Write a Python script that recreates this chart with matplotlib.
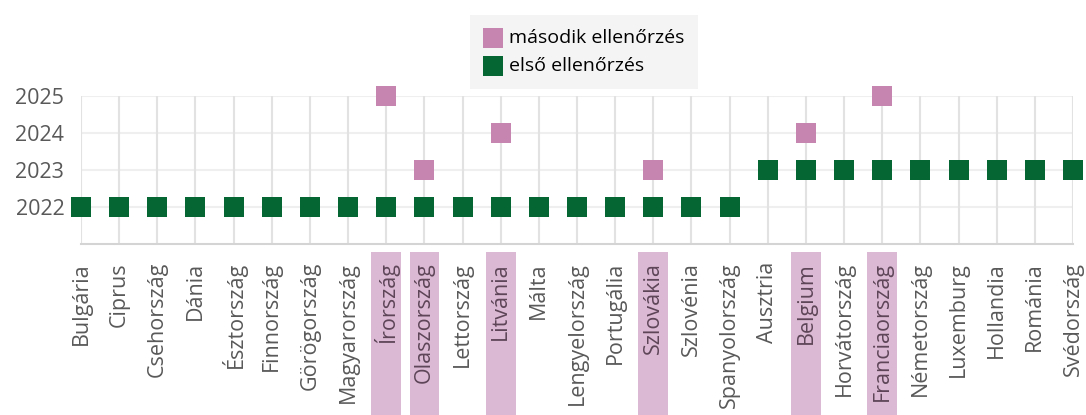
import matplotlib
matplotlib.use("Agg")
import matplotlib.pyplot as plt
import numpy as np
from matplotlib.patches import Rectangle
import matplotlib.transforms as mtransforms

plt.rcParams['font.family'] = ['Open Sans', 'DejaVu Sans']

countries = ["Bulgária", "Ciprus", "Csehország", "Dánia", "Észtország", "Finnország",
             "Görögország", "Magyarország", "Írország", "Olaszország", "Lettország",
             "Litvánia", "Málta", "Lengyelország", "Portugália", "Szlovákia",
             "Szlovénia", "Spanyolország", "Ausztria", "Belgium", "Horvátország",
             "Franciaország", "Németország", "Luxemburg", "Hollandia", "Románia",
             "Svédország"]
first_check = [2022]*18 + [2023]*9
second_check = [np.nan]*8 + [2025, 2023, np.nan, 2024, np.nan, np.nan, np.nan, 2023,
                             np.nan, np.nan, np.nan, 2024, np.nan, 2025] + [np.nan]*5
years = [2022, 2023, 2024, 2025]

pink = "#c585b0"
green = "#066633"
hl = "#dbb9d4"

fig = plt.figure(figsize=(10.86, 4.15), dpi=100)
ax = fig.add_axes([81/1086, 1-244/415, (1073-81)/1086, 148/415])

x = np.arange(len(countries))
ax.scatter(x, second_check, marker='s', s=210, color=pink, zorder=3, clip_on=False,
           linewidths=0, label="második ellenőrzés")
ax.scatter(x, first_check, marker='s', s=210, color=green, zorder=3, clip_on=False,
           linewidths=0, label="első ellenőrzés")

ax.set_xlim(0, len(countries)-1)
ax.set_ylim(2021, 2025)
ax.set_yticks(years)
ax.set_yticklabels([str(y) for y in years], fontsize=15.5, color="#595959")
ax.set_xticks(x)
ax.set_xticklabels(countries, rotation=90, fontsize=15.5, color="#595959", va='top', ha='center')
ax.tick_params(axis='both', length=0)
ax.tick_params(axis='x', pad=13)
ax.tick_params(axis='y', pad=12)

for yv in years:
    ax.axhline(yv, color="#efefef", lw=1.5, zorder=1)
for xi in x:
    ax.axvline(xi, color="#e2e2e2", lw=1.5, zorder=1)

for s in ['top', 'right', 'left']:
    ax.spines[s].set_visible(False)
ax.spines['bottom'].set_color("#d4d4d4")
ax.spines['bottom'].set_linewidth(1.5)

trans = mtransforms.blended_transform_factory(ax.transData, ax.transAxes)
for i, v in enumerate(second_check):
    if not np.isnan(v):
        r = Rectangle((i-0.39, -1.16), 0.78, 1.16-0.054, transform=trans,
                      facecolor=hl, edgecolor='none', clip_on=False, zorder=0)
        ax.add_patch(r)
        ax.get_xticklabels()[i].set_color("#5e4658")

leg = fig.legend(loc='upper left', bbox_to_anchor=(470/1086, 1-15/415), frameon=True,
                 fontsize=14, handletextpad=0.3, borderpad=0.7, labelspacing=0.55,
                 handlelength=1.0, markerscale=1.0, borderaxespad=0)
leg.get_frame().set_facecolor("#f2f2f2")
leg.get_frame().set_edgecolor("none")
leg.get_frame().set_boxstyle("square", pad=0)

fig.savefig("out.png", dpi=100)
